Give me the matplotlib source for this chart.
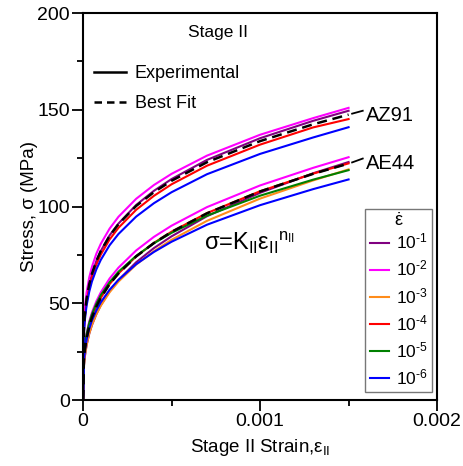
import matplotlib
matplotlib.use("Agg")
import matplotlib.pyplot as plt
from matplotlib.lines import Line2D
from matplotlib.ticker import MultipleLocator

plt.rcParams['font.family'] = ['Liberation Sans', 'DejaVu Sans']
plt.rcParams['mathtext.fontset'] = 'custom'
plt.rcParams['mathtext.rm'] = 'Liberation Sans'
plt.rcParams['mathtext.it'] = 'Liberation Sans'
plt.rcParams['mathtext.default'] = 'regular'

# strain positions where the curves were read
strain = [0, 5e-6, 1e-5, 2e-5, 3.5e-5, 5e-5, 7.5e-5, 1e-4, 1.5e-4, 2e-4,
          3e-4, 4e-4, 5e-4, 7e-4, 1e-3, 1.3e-3, 1.5e-3]

rates = ['10$^{-1}$', '10$^{-2}$', '10$^{-3}$', '10$^{-4}$', '10$^{-5}$', '10$^{-6}$']
rate_labels = [r'10$^{\text{-}%d}$' % k for k in range(1, 7)]
colors = ['#800080', '#ff00ff', '#ff8c1a', '#ff0000', '#008000', '#0000ff']

# AZ91 experimental curves (MPa)
az91 = {
    '10$^{-1}$': [0, 36.9, 43.8, 51.9, 59.5, 65.0, 71.8, 77.0, 85.1, 91.2, 100.8, 108.1, 114.2, 124.1, 135.3, 144.3, 149.5],
    '10$^{-2}$': [0, 40.5, 47.6, 55.7, 63.4, 68.8, 75.6, 80.7, 88.6, 94.7, 104.0, 111.1, 116.9, 126.3, 137.1, 145.7, 151.0],
    '10$^{-4}$': [0, 36.0, 42.7, 50.6, 58.1, 63.5, 70.0, 75.1, 83.0, 89.0, 98.3, 105.5, 111.5, 121.1, 132.0, 140.9, 145.2],
    '10$^{-6}$': [0, 34.7, 41.2, 48.8, 56.0, 61.2, 67.5, 72.4, 80.0, 85.8, 94.8, 101.7, 107.4, 116.7, 127.2, 135.7, 141.0],
}
az91_fit = [0, 37.5, 44.3, 52.4, 59.9, 65.2, 71.8, 77.0, 84.8, 90.9, 100.3, 107.4, 113.3, 122.9, 133.8, 142.5, 147.5]

# AE44 experimental curves (MPa)
ae44 = {
    '10$^{-1}$': [0, 17.7, 22.4, 28.3, 34.3, 38.7, 44.4, 49.0, 56.2, 62.0, 71.2, 78.5, 84.6, 95.0, 107.1, 117.2, 123.0],
    '10$^{-2}$': [0, 22.7, 27.9, 34.3, 40.6, 45.2, 51.0, 55.6, 62.8, 68.4, 77.3, 84.3, 90.1, 99.7, 110.9, 120.0, 125.5],
    '10$^{-3}$': [0, 18.1, 22.8, 28.6, 34.4, 38.8, 44.3, 48.7, 55.7, 61.2, 70.0, 76.9, 82.8, 92.6, 104.1, 113.5, 119.2],
    '10$^{-4}$': [0, 20.9, 25.9, 32.0, 38.2, 42.7, 48.3, 52.8, 59.9, 65.4, 74.2, 81.2, 87.0, 96.6, 107.9, 117.0, 122.3],
    '10$^{-5}$': [0, 22.7, 27.8, 34.0, 39.9, 44.3, 49.8, 54.2, 60.9, 66.3, 74.5, 81.0, 86.4, 95.3, 105.6, 113.9, 118.8],
    '10$^{-6}$': [0, 20.6, 25.3, 31.2, 36.9, 41.1, 46.3, 50.5, 57.0, 62.1, 70.2, 76.5, 81.8, 90.6, 100.7, 109.0, 114.0],
}
ae44_fit = [0, 20.9, 25.9, 32.0, 38.1, 42.6, 48.3, 52.8, 59.9, 65.4, 74.2, 81.1, 86.9, 96.5, 107.8, 116.9, 122.2]

fig = plt.figure(figsize=(4.64, 4.66), dpi=100)
ax = fig.add_axes([0.179, 0.1416, 0.763, 0.8304])

handles = []
for rate, c in zip(rates, colors):
    if rate in ae44:
        h, = ax.plot(strain, ae44[rate], color=c, lw=1.5)
        handles.append(h)
    if rate in az91:
        ax.plot(strain, az91[rate], color=c, lw=1.5)

ax.plot(strain, az91_fit, color='black', lw=1.8, ls=(0, (4, 2.3)))
ax.plot(strain, ae44_fit, color='black', lw=1.8, ls=(0, (4, 2.3)))

# leader lines to the alloy labels
ax.plot([1.52e-3, 1.58e-3], [148.0, 149.5], color='black', lw=1.3)
ax.plot([1.52e-3, 1.58e-3], [122.8, 124.8], color='black', lw=1.3)
ax.text(1.6e-3, 146.8, 'AZ91', fontsize=14.5, va='center', ha='left')
ax.text(1.6e-3, 122.0, 'AE44', fontsize=14.5, va='center', ha='left')

ax.text(0.00076, 190, 'Stage II', fontsize=12.5, ha='center', va='center')
ax.text(0.00094, 81, 'σ=K$_{II}$ε$_{II}$$^{n_{II}}$', fontsize=17, ha='center', va='center')

ax.set_xlim(0, 0.002)
ax.set_ylim(0, 200)
ax.set_xticks([0, 0.001, 0.002])
ax.set_xticklabels(['0', '0.001', '0.002'])
ax.xaxis.set_minor_locator(MultipleLocator(0.0005))
ax.yaxis.set_major_locator(MultipleLocator(50))
ax.yaxis.set_minor_locator(MultipleLocator(25))
ax.tick_params(which='both', direction='out', width=1.3, labelsize=14, pad=1.5)
ax.tick_params(which='major', length=8)
ax.tick_params(which='minor', length=4)
for s in ax.spines.values():
    s.set_linewidth(1.5)

ax.set_xlabel('Stage II Strain,ε$_{II}$', fontsize=13.5)
ax.set_ylabel('Stress, σ (MPa)', fontsize=13.5)
ax.xaxis.set_label_coords(0.5, -0.095)
ax.yaxis.set_label_coords(-0.127, 0.5)

style = [Line2D([], [], color='black', lw=1.8),
         Line2D([], [], color='black', lw=1.8, ls=(0, (3, 2)))]
leg1 = ax.legend(style, ['Experimental', 'Best Fit'], loc='upper left',
                 bbox_to_anchor=(0.0, 0.893), frameon=False, fontsize=13,
                 handlelength=1.8, labelspacing=0.7, handletextpad=0.45,
                 borderaxespad=0.2)
ax.add_artist(leg1)

leg2 = ax.legend(handles, rate_labels, title=r'$\dot{\varepsilon}$', loc='lower right',
                 bbox_to_anchor=(0.986, 0.021), borderaxespad=0, fontsize=12.5,
                 title_fontsize=13, handlelength=1.1, handletextpad=0.4,
                 labelspacing=0.42, borderpad=0.25, fancybox=False,
                 edgecolor='#555555')
leg2.get_frame().set_linewidth(1.0)
leg2._legend_box.sep = 1

fig.savefig('out.png', dpi=100)
